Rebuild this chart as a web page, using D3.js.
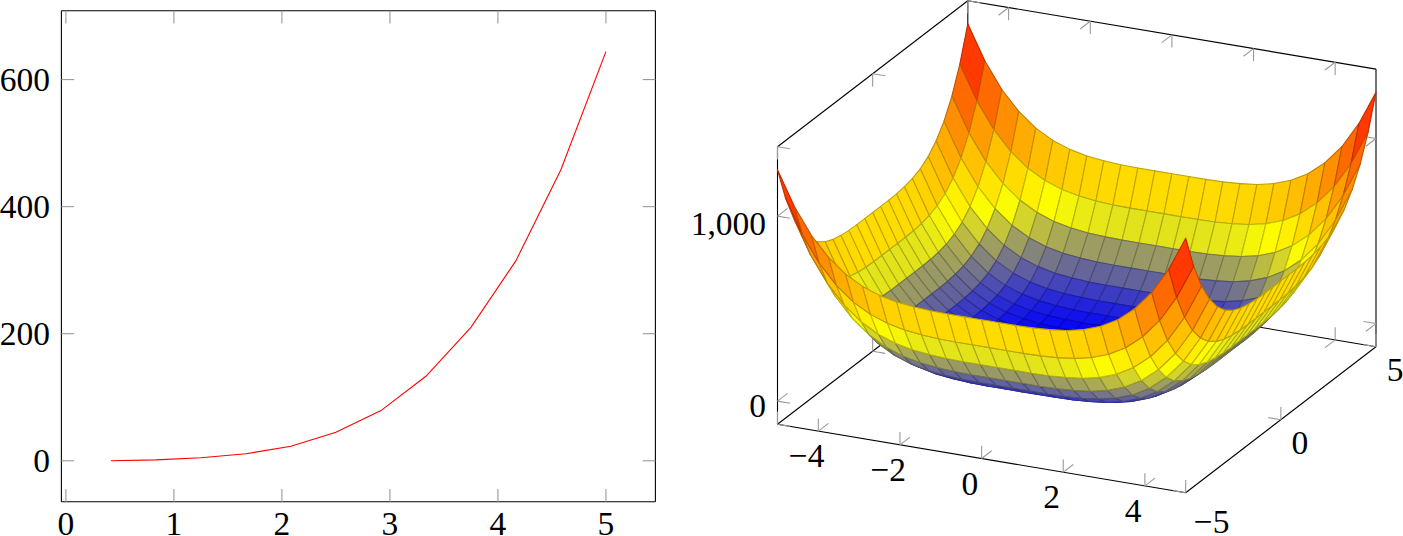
<!DOCTYPE html>
<html><head><meta charset="utf-8">
<script src="https://cdn.jsdelivr.net/npm/d3@7"></script>
<style>html,body{margin:0;background:#fff}svg{display:block}text{font-family:"Liberation Serif",serif;font-size:33.5px;fill:#000}</style>
</head><body><svg id="c" width="1403" height="536"></svg>
<script>
// ---- left plot data
const lineX=[0.417,0.833,1.25,1.667,2.083,2.5,2.917,3.333,3.75,4.167,4.583,5];
const lineY=[0,1.5,4.7,11,23,45,79,133,210,315,458,644];
const leftXTicks=[0,1,2,3,4,5];
const leftYTicks=[0,200,400,600];
// ---- right plot data
const gridSamples=[-5,-4.583,-4.167,-3.75,-3.333,-2.917,-2.5,-2.083,-1.667,-1.25,-0.833,-0.417,0,0.417,0.833,1.25,1.667,2.083,2.5,2.917,3.333,3.75,4.167,4.583,5];
const zRows=[
[1250,1066,926,823,748,697,664,644,633,627,625,625,625,625,625,627,633,644,664,697,748,823,926,1066,1250],
[1066,882,742,639,564,513,480,460,449,443,441,441,441,441,441,443,449,460,480,513,564,639,742,882,1066],
[926,742,602,499,424,373,340,320,309,303,301,301,301,301,301,303,309,320,340,373,424,499,602,742,926],
[823,639,499,396,321,270,237,217,206,200,198,198,198,198,198,200,206,217,237,270,321,396,499,639,823],
[748,564,424,321,246,195,162,142,131,125,123,123,123,123,123,125,131,142,162,195,246,321,424,564,748],
[697,513,373,270,195,144,111,91,80,74,72,72,72,72,72,74,80,91,111,144,195,270,373,513,697],
[664,480,340,237,162,111,78,58,47,41,39,39,39,39,39,41,47,58,78,111,162,237,340,480,664],
[644,460,320,217,142,91,58,38,27,21,19,19,19,19,19,21,27,38,58,91,142,217,320,460,644],
[633,449,309,206,131,80,47,27,16,10,8,8,8,8,8,10,16,27,47,80,131,206,309,449,633],
[627,443,303,200,125,74,41,21,10,4,2,2,2,2,2,4,10,21,41,74,125,200,303,443,627],
[625,441,301,198,123,72,39,19,8,2,0,0,0,0,0,2,8,19,39,72,123,198,301,441,625],
[625,441,301,198,123,72,39,19,8,2,0,0,0,0,0,2,8,19,39,72,123,198,301,441,625],
[625,441,301,198,123,72,39,19,8,2,0,0,0,0,0,2,8,19,39,72,123,198,301,441,625],
[625,441,301,198,123,72,39,19,8,2,0,0,0,0,0,2,8,19,39,72,123,198,301,441,625],
[625,441,301,198,123,72,39,19,8,2,0,0,0,0,0,2,8,19,39,72,123,198,301,441,625],
[627,443,303,200,125,74,41,21,10,4,2,2,2,2,2,4,10,21,41,74,125,200,303,443,627],
[633,449,309,206,131,80,47,27,16,10,8,8,8,8,8,10,16,27,47,80,131,206,309,449,633],
[644,460,320,217,142,91,58,38,27,21,19,19,19,19,19,21,27,38,58,91,142,217,320,460,644],
[664,480,340,237,162,111,78,58,47,41,39,39,39,39,39,41,47,58,78,111,162,237,340,480,664],
[697,513,373,270,195,144,111,91,80,74,72,72,72,72,72,74,80,91,111,144,195,270,373,513,697],
[748,564,424,321,246,195,162,142,131,125,123,123,123,123,123,125,131,142,162,195,246,321,424,564,748],
[823,639,499,396,321,270,237,217,206,200,198,198,198,198,198,200,206,217,237,270,321,396,499,639,823],
[926,742,602,499,424,373,340,320,309,303,301,301,301,301,301,303,309,320,340,373,424,499,602,742,926],
[1066,882,742,639,564,513,480,460,449,443,441,441,441,441,441,443,449,460,480,513,564,639,742,882,1066],
[1250,1066,926,823,748,697,664,644,633,627,625,625,625,625,625,627,633,644,664,697,748,823,926,1066,1250]];
const xTicks3d=[-4,-2,0,2,4];
const yTicks3d=[-5,0,5];
const zTicks3d=[0,1000];
const hotStops=["#0000ff","#ffff00","#ff8000","#ff0000"];

const svg=d3.select("#c");
const INK="#000",TICK="#9a9a9a",LW=1.1;
const minus=n=>String(n).replace("-","\u2212");

// ---------- left axis
const lx=d3.scaleLinear().domain([-0.0417,5.458]).range([61.4,655.4]);
const ly=d3.scaleLinear().domain([-64.4,708.4]).range([501.7,10.7]);
const L=svg.append("g");
function styleAxis(g){
  g.selectAll("path.domain").attr("stroke",INK).attr("stroke-width",LW);
  g.selectAll(".tick line").attr("stroke",TICK).attr("stroke-width",LW);
}
const ax=[
 [d3.axisBottom(lx).tickValues(leftXTicks).tickSizeInner(-12.7).tickFormat(d3.format("d")),0,501.7],
 [d3.axisTop(lx).tickValues(leftXTicks).tickSizeInner(-12.7).tickFormat(""),0,10.7],
 [d3.axisLeft(ly).tickValues(leftYTicks).tickSizeInner(-12.7).tickFormat(d3.format("d")),61.4,0],
 [d3.axisRight(ly).tickValues(leftYTicks).tickSizeInner(-12.7).tickFormat(""),655.4,0]];
ax.forEach(([a,tx,ty],k)=>{
  const g=L.append("g").attr("transform",`translate(${tx},${ty})`)
    .call(a.tickSizeOuter(0).offset(0)).attr("font-family",null).attr("font-size",null);
  styleAxis(g);
  if(k===0) g.selectAll("text").attr("y",33.3).attr("dy",0);
  if(k===2) g.selectAll("text").attr("x",-11.5).attr("dy",11.3);
});
L.append("path").datum(lineX.map((x,i)=>[x,lineY[i]]))
 .attr("fill","none").attr("stroke","#ff0000").attr("stroke-width",LW)
 .attr("d",d3.line().x(d=>lx(d[0])).y(d=>ly(d[1])));

// ---------- right axis: oblique projection built from three scales
const XMIN=-5,XMAX=5,YMIN=-5,YMAX=5,ZMIN=-125,ZMAX=1375;
const nx=d3.scaleLinear().domain([XMIN,XMAX]).range([0,1]);
const ny=d3.scaleLinear().domain([YMIN,YMAX]).range([0,1]);
const nz=d3.scaleLinear().domain([ZMIN,ZMAX]).range([0,1]);
const proj=(x,y,z)=>[777.5+408.2*nx(x)+190.3*ny(y), 424.3+68.4*nx(x)-146*ny(y)-277.6*nz(z)];
const R=svg.append("g");
const edges=[
 [[XMIN,YMIN,ZMIN],[XMIN,YMIN,ZMAX]],[[XMAX,YMAX,ZMIN],[XMAX,YMAX,ZMAX]],[[XMIN,YMAX,ZMIN],[XMIN,YMAX,ZMAX]],
 [[XMIN,YMIN,ZMAX],[XMIN,YMAX,ZMAX]],[[XMIN,YMAX,ZMAX],[XMAX,YMAX,ZMAX]],
 [[XMIN,YMIN,ZMIN],[XMAX,YMIN,ZMIN]],[[XMAX,YMIN,ZMIN],[XMAX,YMAX,ZMIN]],
 [[XMIN,YMIN,ZMIN],[XMIN,YMAX,ZMIN]],[[XMIN,YMAX,ZMIN],[XMAX,YMAX,ZMIN]]];
const seg=d3.line();
R.append("g").selectAll("path").data(edges).join("path")
 .attr("d",e=>seg(e.map(p=>proj(...p)))).attr("fill","none").attr("stroke",INK).attr("stroke-width",LW);

const TL=12.7;
const dirs={px:[1,0,0],mx:[-1,0,0],py:[0,1,0],my:[0,-1,0],pz:[0,0,1],mz:[0,0,-1]};
function tickSegs(p,ds){
  const o=proj(...p);
  return ds.map(k=>{
    const d=dirs[k];
    const q=proj(p[0]+d[0]*.1,p[1]+d[1]*.1,p[2]+d[2]*.1*100);
    const vx=q[0]-o[0],vy=q[1]-o[1],l=Math.hypot(vx,vy);
    return [o,[o[0]+vx/l*TL,o[1]+vy/l*TL]];
  });
}
let ts=[];
xTicks3d.forEach(x=>{ts.push(...tickSegs([x,YMIN,ZMIN],["pz","py"]),...tickSegs([x,YMAX,ZMAX],["mz","my"]),...tickSegs([x,YMAX,ZMIN],["pz","my"]));});
yTicks3d.forEach(y=>{ts.push(...tickSegs([XMAX,y,ZMIN],["pz","mx"]),...tickSegs([XMIN,y,ZMAX],["mz","px"]),...tickSegs([XMIN,y,ZMIN],["pz","px"]));});
zTicks3d.forEach(z=>{ts.push(...tickSegs([XMIN,YMIN,z],["px","py"]),...tickSegs([XMAX,YMAX,z],["mx","my"]));});
R.append("g").selectAll("path").data(ts).join("path").attr("d",seg)
 .attr("fill","none").attr("stroke",TICK).attr("stroke-width",LW);

// ---------- surface, painted far to near
const hot=d3.scaleLinear().domain([0,1/3,2/3,1]).range(hotStops).interpolate(d3.interpolateRgb);
const meta=d3.scaleLinear().domain([d3.min(zRows.flat()),d3.max(zRows.flat())]).range([0,1]);
const quads=[];
for(let i=0;i<gridSamples.length-1;i++){
  for(let j=gridSamples.length-2;j>=0;j--){
    const c=[[i,j],[i+1,j],[i+1,j+1],[i,j+1]];
    quads.push({pts:c.map(([a,b])=>proj(gridSamples[a],gridSamples[b],zRows[b][a])),
                m:d3.mean(c,([a,b])=>zRows[b][a])});
  }
}
R.append("g").selectAll("path").data(quads).join("path")
 .attr("d",q=>seg(q.pts)+"Z")
 .attr("fill",q=>hot(meta(q.m)))
 .attr("stroke",q=>d3.interpolateRgb(hot(meta(q.m)),"#000")(0.25))
 .attr("stroke-width",1.1).attr("stroke-linejoin","round");

// ---------- right axis labels
const T=R.append("g");
xTicks3d.forEach(x=>{const p=proj(x,YMIN,ZMIN);
  T.append("text").attr("x",p[0]-11.7).attr("y",p[1]+36).attr("text-anchor","middle").text(minus(x));});
yTicks3d.forEach(y=>{const p=proj(XMAX,y,ZMIN),n=y<0;
  T.append("text").attr("x",p[0]+(n?26:19)).attr("y",p[1]+(n?40:34.5)).attr("text-anchor","middle").text(minus(y));});
zTicks3d.forEach(z=>{const p=proj(XMIN,YMIN,z);
  T.append("text").attr("x",p[0]-11.5).attr("y",p[1]+(z>0?19:16)).attr("text-anchor","end").text(d3.format(",")(z));});
</script></body></html>
